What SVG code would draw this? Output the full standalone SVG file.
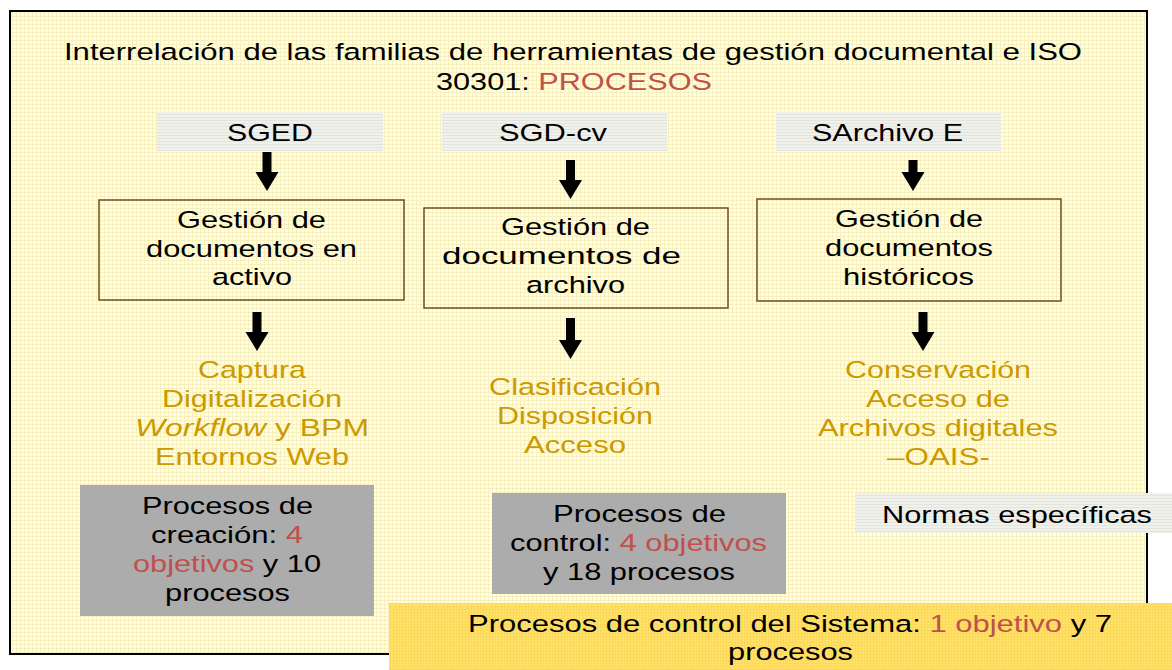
<svg xmlns="http://www.w3.org/2000/svg" width="1172" height="670" viewBox="0 0 1172 670">
<defs>
<pattern id="grid" width="4" height="4" patternUnits="userSpaceOnUse">
<rect width="4" height="4" fill="#FFFFE6"/>
<path d="M0,0.5 H4 M0.5,0 V4" stroke="#F7F0BE" stroke-width="1"/>
</pattern>
<pattern id="lab" width="3" height="3" patternUnits="userSpaceOnUse">
<rect width="3" height="3" fill="#F1F1EC"/>
<path d="M0,0.5 H3" stroke="#E4E4DE" stroke-width="1"/>
</pattern>
<pattern id="gold" width="3" height="3" patternUnits="userSpaceOnUse">
<rect width="3" height="3" fill="#FFE26A"/>
<path d="M0,0.5 H3 M0.5,0 V3" stroke="#FCD95A" stroke-width="1"/>
</pattern>
<marker id="head" markerUnits="userSpaceOnUse" markerWidth="20" markerHeight="24" refX="0" refY="11.5" orient="auto">
<path d="M0,0 L19,11.5 L0,23 z" fill="#000"/>
</marker>
</defs>
<style>
text{font-family:"Liberation Sans",Arial,sans-serif;font-size:24.5px;fill:#000}
.g{fill:#CC9900}
.r{fill:#C0504D}
.box{fill:none;stroke:#6E4E1E;stroke-width:1.5}
.lab{fill:url(#lab)}
.grey{fill:#ACACAC}
.arr{stroke:#000;stroke-width:9;marker-end:url(#head)}
</style>
<rect x="0" y="0" width="1172" height="670" fill="#FFFFFF"/>
<rect id="frame" x="10" y="11" width="1137" height="643" fill="url(#grid)" stroke="#000" stroke-width="2"/>

<g id="title">
<text x="64" y="60" textLength="1018" lengthAdjust="spacingAndGlyphs">Interrelación de las familias de herramientas de gestión documental e ISO</text>
<text x="436" y="90" textLength="276" lengthAdjust="spacingAndGlyphs">30301: <tspan class="r">PROCESOS</tspan></text>
</g>

<g id="sged">
<rect class="lab" x="157" y="112" width="226" height="39"/>
<text x="227" y="141" textLength="86" lengthAdjust="spacingAndGlyphs">SGED</text>
</g>
<g id="sgdcv">
<rect class="lab" x="442" y="112" width="225" height="39"/>
<text x="499" y="141" textLength="108" lengthAdjust="spacingAndGlyphs">SGD-cv</text>
</g>
<g id="sarchivo">
<rect class="lab" x="776" y="112" width="225" height="39"/>
<text x="812" y="141" textLength="151" lengthAdjust="spacingAndGlyphs">SArchivo E</text>
</g>

<g id="box1">
<rect class="box" x="99" y="200" width="305" height="100"/>
<text x="177" y="228" textLength="149" lengthAdjust="spacingAndGlyphs">Gestión de</text>
<text x="146" y="257" textLength="211" lengthAdjust="spacingAndGlyphs">documentos en</text>
<text x="212" y="285" textLength="80" lengthAdjust="spacingAndGlyphs">activo</text>
</g>
<g id="box2">
<rect class="box" x="424" y="208" width="304" height="100"/>
<text x="501" y="235" textLength="149" lengthAdjust="spacingAndGlyphs">Gestión de</text>
<text x="442" y="264" textLength="239" lengthAdjust="spacingAndGlyphs">documentos de</text>
<text x="526" y="293" textLength="99" lengthAdjust="spacingAndGlyphs">archivo</text>
</g>
<g id="box3">
<rect class="box" x="757" y="199" width="304" height="102"/>
<text x="835" y="227" textLength="148" lengthAdjust="spacingAndGlyphs">Gestión de</text>
<text x="825" y="256" textLength="168" lengthAdjust="spacingAndGlyphs">documentos</text>
<text x="843" y="285" textLength="131" lengthAdjust="spacingAndGlyphs">históricos</text>
</g>

<g id="list1">
<text class="g" x="198" y="378" textLength="108" lengthAdjust="spacingAndGlyphs">Captura</text>
<text class="g" x="162" y="407" textLength="180" lengthAdjust="spacingAndGlyphs">Digitalización</text>
<text class="g" x="135" y="436" textLength="234" lengthAdjust="spacingAndGlyphs"><tspan font-style="italic">Workflow</tspan>  y BPM</text>
<text class="g" x="155" y="465" textLength="194" lengthAdjust="spacingAndGlyphs">Entornos Web</text>
</g>
<g id="list2">
<text class="g" x="489" y="395" textLength="172" lengthAdjust="spacingAndGlyphs">Clasificación</text>
<text class="g" x="497" y="424" textLength="156" lengthAdjust="spacingAndGlyphs">Disposición</text>
<text class="g" x="524" y="453" textLength="102" lengthAdjust="spacingAndGlyphs">Acceso</text>
</g>
<g id="list3">
<text class="g" x="845" y="378" textLength="186" lengthAdjust="spacingAndGlyphs">Conservación</text>
<text class="g" x="866" y="407" textLength="144" lengthAdjust="spacingAndGlyphs">Acceso de</text>
<text class="g" x="818" y="436" textLength="240" lengthAdjust="spacingAndGlyphs">Archivos digitales</text>
<text class="g" x="887" y="465" textLength="103" lengthAdjust="spacingAndGlyphs">–OAIS-</text>
</g>

<g id="grey1">
<rect class="grey" x="80" y="485" width="294" height="131"/>
<text x="142" y="514" textLength="171" lengthAdjust="spacingAndGlyphs">Procesos de</text>
<text x="151" y="543" textLength="152" lengthAdjust="spacingAndGlyphs">creación: <tspan class="r">4</tspan></text>
<text x="133" y="572" textLength="188" lengthAdjust="spacingAndGlyphs"><tspan class="r">objetivos</tspan> y 10</text>
<text x="165" y="601" textLength="125" lengthAdjust="spacingAndGlyphs">procesos</text>
</g>
<g id="grey2">
<rect class="grey" x="492" y="493" width="294" height="101"/>
<text x="553" y="522" textLength="173" lengthAdjust="spacingAndGlyphs">Procesos de</text>
<text x="510" y="551" textLength="257" lengthAdjust="spacingAndGlyphs">control: <tspan class="r">4 objetivos</tspan></text>
<text x="543" y="580" textLength="192" lengthAdjust="spacingAndGlyphs">y 18 procesos</text>
</g>

<g id="normas">
<rect class="lab" x="855" y="493" width="317" height="40"/>
<text x="882" y="523" textLength="270" lengthAdjust="spacingAndGlyphs">Normas específicas</text>
</g>

<g id="bottom">
<rect x="389" y="603" width="783" height="67" fill="url(#gold)"/>
<text x="468" y="632" textLength="644" lengthAdjust="spacingAndGlyphs">Procesos de control del Sistema: <tspan class="r">1 objetivo</tspan> y 7</text>
<text x="728" y="660" textLength="125" lengthAdjust="spacingAndGlyphs">procesos</text>
</g>

<g id="connectors">
<line class="arr" x1="267" y1="152" x2="267" y2="172"/>
<line class="arr" x1="570.5" y1="160" x2="570.5" y2="180"/>
<line class="arr" x1="913" y1="160" x2="913" y2="172"/>
<line class="arr" x1="257" y1="312" x2="257" y2="332"/>
<line class="arr" x1="570.5" y1="318" x2="570.5" y2="340"/>
<line class="arr" x1="923" y1="312" x2="923" y2="332"/>
</g>
</svg>
